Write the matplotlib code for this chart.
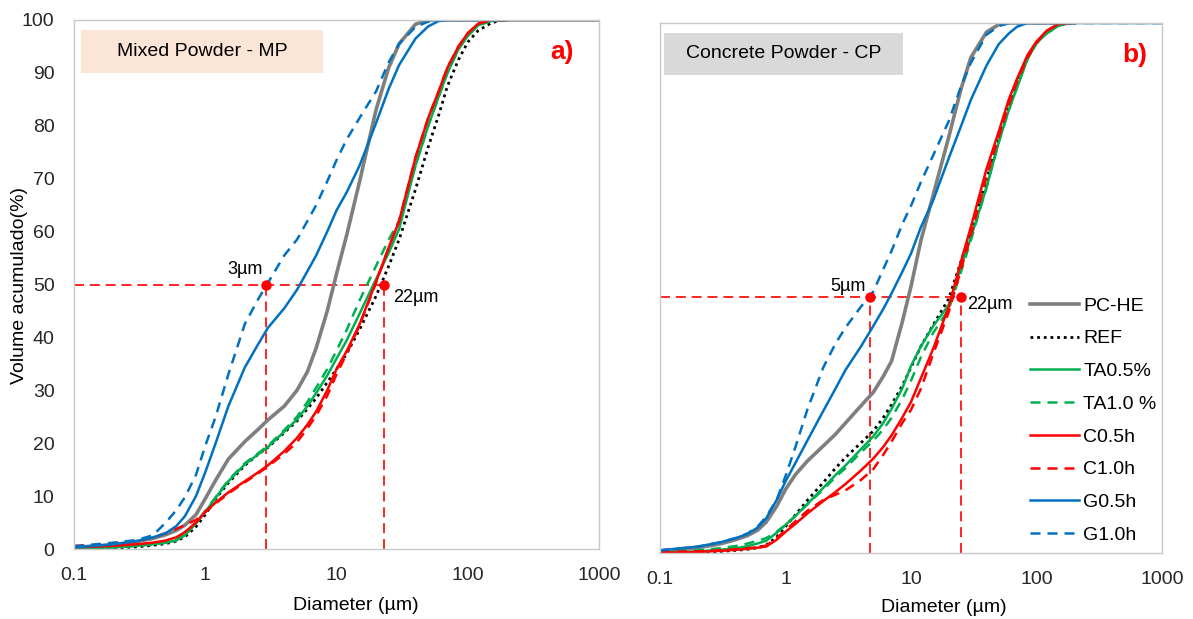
import numpy as np
import matplotlib
matplotlib.use("Agg")
import matplotlib.pyplot as plt
from matplotlib.patches import Rectangle
from matplotlib.ticker import NullLocator

plt.rcParams['font.family'] = ['Liberation Sans', 'DejaVu Sans']

nan = np.nan

# diameters (µm) at which the curves were read
diam = [0.1, 0.2, 0.3, 0.4, 0.5, 0.6, 0.7, 0.85, 1, 1.2, 1.5, 2, 2.5, 3, 4, 5, 6, 7, 8.5,
        10, 12, 15, 20, 25, 30, 40, 50, 60, 70, 85, 100, 120, 150, 180, 200, 1000]

# a) Mixed Powder - MP
pche_mp = [0.3, 0.8, 1.4, 2.0, 2.7, 3.5, 4.5, 6.5, 9.5, 13.0, 17.0, 20.3, 22.5, 24.4, 27.0, 30.0, 33.5, 38.0, 45.0,
           52.0, 59.5, 69.5, 83.0, 91.0, 95.5, 99.2, 100, 100, 100, 100, 100, 100, 100, 100, 100, 100]
ref_mp = [0.0, 0.2, 0.4, 0.7, 1.0, 1.5, 2.3, 4.2, 6.5, 9.5, 12.5, 15.8, 17.8, 19.2, 22.0, 24.2, 26.5, 28.5, 31.5,
          34.0, 37.0, 41.5, 47.8, 53.5, 58.5, 68.0, 76.0, 82.0, 87.5, 92.5, 95.8, 98.0, 99.4, 100, 100, nan]
ta05_mp = [0.1, 0.3, 0.6, 0.9, 1.2, 1.6, 2.6, 4.8, 7.0, 9.7, 12.8, 16.0, 17.8, 19.3, 22.2, 24.5, 27.0, 29.5, 32.8,
           36.0, 39.5, 44.5, 51.0, 56.0, 60.5, 72.5, 80.0, 85.5, 90.0, 94.5, 97.0, 99.0, 99.8, 100, 100, nan]
ta10_mp = [0.1, 0.3, 0.6, 0.9, 1.2, 1.7, 2.8, 5.0, 7.2, 9.8, 13.0, 16.2, 18.0, 19.5, 22.5, 25.0, 27.8, 30.5, 34.0,
           37.5, 41.5, 47.0, 53.5, 58.5, 62.0, 72.5, 80.0, 85.5, 90.0, 94.5, 97.0, 99.0, 99.8, 100, 100, nan]
c05_mp = [0.3, 0.6, 0.9, 1.2, 1.6, 2.2, 3.2, 5.0, 7.0, 8.8, 10.7, 12.8, 14.4, 15.8, 18.5, 21.0, 23.5, 26.0, 30.0,
          34.0, 37.5, 42.5, 50.5, 57.0, 62.0, 74.0, 81.5, 86.5, 91.0, 95.0, 97.5, 99.3, 100, 100, 100, nan]
c10_mp = [0.6, 0.9, 1.5, 2.2, 3.0, 3.8, 4.5, 5.5, 7.0, 8.6, 10.5, 12.6, 14.2, 15.6, 18.0, 20.2, 22.8, 25.2, 29.0,
          33.0, 37.0, 42.3, 50.3, 57.0, 62.0, 74.0, 81.5, 86.5, 91.0, 95.0, 97.5, 99.3, 100, 100, 100, nan]
g05_mp = [0.3, 0.9, 1.5, 2.2, 3.0, 4.3, 6.2, 10.0, 14.5, 20.0, 27.0, 34.3, 38.5, 41.8, 45.5, 49.0, 52.5, 55.5, 60.0,
          64.0, 67.5, 72.5, 80.5, 87.0, 91.5, 96.5, 98.8, 99.8, 100, 100, 100, 100, 100, 100, 100, nan]
g10_mp = [0.5, 1.2, 1.7, 2.6, 5.0, 7.3, 9.8, 14.0, 19.5, 25.0, 33.0, 42.5, 47.0, 50.3, 55.5, 58.5, 62.0, 65.0, 69.5,
          73.5, 77.5, 81.5, 86.5, 92.0, 95.5, 98.7, 99.7, 100, 100, 100, 100, 100, 100, 100, 100, nan]

# b) Concrete Powder - CP
pche_cp = [0.4, 1.0, 1.7, 2.5, 3.3, 4.3, 5.8, 8.8, 12.0, 14.8, 17.4, 20.2, 22.4, 24.5, 27.8, 30.3, 33.3, 36.2, 43.5,
           50.3, 59.0, 67.5, 78.5, 87.5, 93.5, 98.3, 99.7, 100, 100, 100, 100, 100, 100, 100, 100, nan]
ref_cp = [0.0, 0.1, 0.3, 0.5, 0.7, 1.0, 1.5, 3.0, 5.0, 7.2, 10.0, 13.3, 16.0, 18.0, 20.8, 23.0, 25.5, 28.0, 31.5,
          35.0, 39.0, 43.0, 48.0, 55.0, 60.5, 70.5, 78.0, 84.0, 88.5, 93.5, 96.2, 98.3, 99.6, 100, 100, nan]
ta05_cp = [0.1, 0.3, 0.6, 0.9, 1.3, 1.8, 2.3, 3.8, 5.3, 7.0, 9.3, 12.3, 14.7, 16.5, 19.6, 22.0, 24.5, 27.2, 31.0,
           35.3, 39.0, 42.8, 46.8, 54.0, 59.5, 69.0, 77.5, 83.5, 87.8, 93.3, 96.2, 98.0, 99.5, 100, 100, nan]
ta10_cp = [0.2, 0.5, 0.9, 1.3, 1.8, 2.3, 2.8, 4.0, 5.3, 7.0, 9.2, 12.0, 14.3, 16.0, 19.0, 21.2, 23.3, 25.5, 29.0,
           32.5, 37.0, 41.5, 46.0, 53.0, 59.0, 69.0, 77.5, 83.5, 88.0, 93.3, 96.2, 98.0, 99.5, 100, 100, nan]
c05_cp = [0.0, 0.2, 0.4, 0.6, 0.8, 1.0, 1.2, 2.5, 4.0, 5.5, 7.5, 9.8, 11.5, 13.0, 15.6, 17.8, 20.0, 22.2, 25.5,
          28.5, 33.0, 38.5, 46.5, 55.0, 61.5, 72.5, 79.5, 85.5, 89.5, 94.0, 96.5, 98.5, 99.8, 100, 100, nan]
c10_cp = [0.2, 0.3, 0.5, 0.7, 0.9, 1.1, 1.4, 2.8, 4.3, 6.0, 8.0, 10.0, 11.0, 11.8, 13.8, 15.8, 18.5, 21.0, 24.5,
          27.0, 31.0, 37.5, 45.5, 53.5, 60.0, 71.0, 78.5, 84.5, 89.0, 93.5, 96.3, 98.5, 99.8, 100, 100, nan]
g05_cp = [0.5, 1.2, 2.0, 2.8, 3.6, 4.8, 6.5, 10.0, 13.5, 17.0, 21.3, 26.8, 31.0, 34.5, 39.0, 42.8, 46.0, 49.0, 53.0,
          56.5, 61.5, 66.5, 74.5, 80.5, 85.5, 92.0, 96.0, 98.0, 99.3, 100, 100, 100, 100, 100, 100, 100]
g10_cp = [0.5, 1.2, 2.0, 2.8, 3.7, 5.0, 6.8, 10.0, 14.5, 20.0, 27.2, 35.0, 39.5, 42.5, 46.5, 49.3, 53.5, 57.0, 62.0,
          65.5, 70.0, 75.0, 81.5, 88.0, 92.5, 97.8, 99.4, 100, 100, 100, 100, 100, 100, 100, 100, 100]

labels = ["PC-HE", "REF", "TA0.5%", "TA1.0 %", "C0.5h", "C1.0h", "G0.5h", "G1.0h"]

# d50 marks: x of the two points and the y level
d50_mp = [2.9, 23.0]
level_mp = 50.0
d50_cp = [4.7, 25.0]
level_cp = 48.3

gray = "#7F7F7F"
green = "#00B050"
red = "#FF0000"
blue = "#0070C0"
dash = (0, (4, 2.8))
styles = [
    (gray, "-", 2.6),
    ("black", (0, (1, 1.4)), 2.0),
    (green, "-", 1.8),
    (green, dash, 1.8),
    (red, "-", 1.8),
    (red, dash, 1.8),
    (blue, "-", 1.8),
    (blue, dash, 1.8),
]

W, H = 1193, 619
fig = plt.figure(figsize=(W / 100, H / 100), dpi=100)

ax1 = fig.add_axes([74 / W, 1 - 549 / H, 525 / W, 529 / H])
ax2 = fig.add_axes([660 / W, 1 - 553 / H, 502 / W, 530 / H])

panels = [
    (ax1, [pche_mp, ref_mp, ta05_mp, ta10_mp, c05_mp, c10_mp, g05_mp, g10_mp], d50_mp, level_mp),
    (ax2, [pche_cp, ref_cp, ta05_cp, ta10_cp, c05_cp, c10_cp, g05_cp, g10_cp], d50_cp, level_cp),
]

for ax, series, marks, level in panels:
    # guide lines for d50
    ax.plot([0.1, marks[1]], [level, level], color=red, lw=1.2, ls=(0, (6, 3.5)), zorder=1)
    for m in marks:
        ax.plot([m, m], [0, level], color=red, lw=1.2, ls=(0, (6, 3.5)), zorder=1)
    for vals, (col, ls, lw), lab in zip(series, styles, labels):
        ax.plot(diam, vals, color=col, ls=ls, lw=lw, label=lab, zorder=2)
    ax.plot(marks, [level, level], "o", color=red, ms=6.5, zorder=4)

    ax.set_xscale("log")
    ax.set_xlim(0.1, 1000)
    ax.set_ylim(0, 100)
    ax.set_xticks([0.1, 1, 10, 100, 1000])
    ax.set_xticklabels(["0.1", "1", "10", "100", "1000"])
    ax.xaxis.set_minor_locator(NullLocator())
    ax.tick_params(axis="x", length=0, labelsize=14, pad=13, labelcolor="#262626")
    for s in ax.spines.values():
        s.set_color("#C9C9C9")
        s.set_linewidth(1.0)

ax1.set_yticks(range(0, 101, 10))
ax1.tick_params(axis="y", length=0, labelsize=14, pad=14, labelcolor="#262626")
ax2.set_yticks([])

# d50 labels
ax1.text(2.0, 52.8, "3µm", fontsize=13, ha="center", va="center")
ax1.text(27.0, 47.6, "22µm", fontsize=13, ha="left", va="center")
ax2.text(3.15, 50.3, "5µm", fontsize=13, ha="center", va="center")
ax2.text(28.0, 46.8, "22µm", fontsize=13, ha="left", va="center")

# panel titles
fig.patches.append(Rectangle((81 / W, 1 - 73 / H), 242 / W, 43 / H, transform=fig.transFigure,
                             facecolor="#FBE5D6", edgecolor="none", zorder=5))
fig.text(202 / W, 1 - 51.5 / H, "Mixed Powder - MP", fontsize=14, ha="center", va="center", zorder=6)
fig.patches.append(Rectangle((664 / W, 1 - 75 / H), 239 / W, 42 / H, transform=fig.transFigure,
                             facecolor="#D9D9D9", edgecolor="none", zorder=5))
fig.text(783.5 / W, 1 - 54 / H, "Concrete Powder - CP", fontsize=14, ha="center", va="center", zorder=6)

fig.text(562 / W, 1 - 52 / H, "a)", fontsize=19, fontweight="bold", color=red, ha="center", va="center")
fig.text(1135 / W, 1 - 55 / H, "b)", fontsize=19, fontweight="bold", color=red, ha="center", va="center")

fig.text(20 / W, 1 - 285 / H, "Volume acumulado(%)", fontsize=14, rotation=90, ha="center", va="center")
fig.text(356 / W, 1 - 605 / H, "Diameter (µm)", fontsize=14, ha="center", va="center")
fig.text(944 / W, 1 - 607 / H, "Diameter (µm)", fontsize=14, ha="center", va="center")

ax2.legend(loc="upper left", bbox_to_anchor=(1030 / W, 1 - 297 / H), bbox_transform=fig.transFigure,
           frameon=False, fontsize=14, handlelength=2.5, handletextpad=0.25, labelspacing=0.78,
           borderpad=0, borderaxespad=0)

fig.savefig("out.png", dpi=100)
plt.close()
